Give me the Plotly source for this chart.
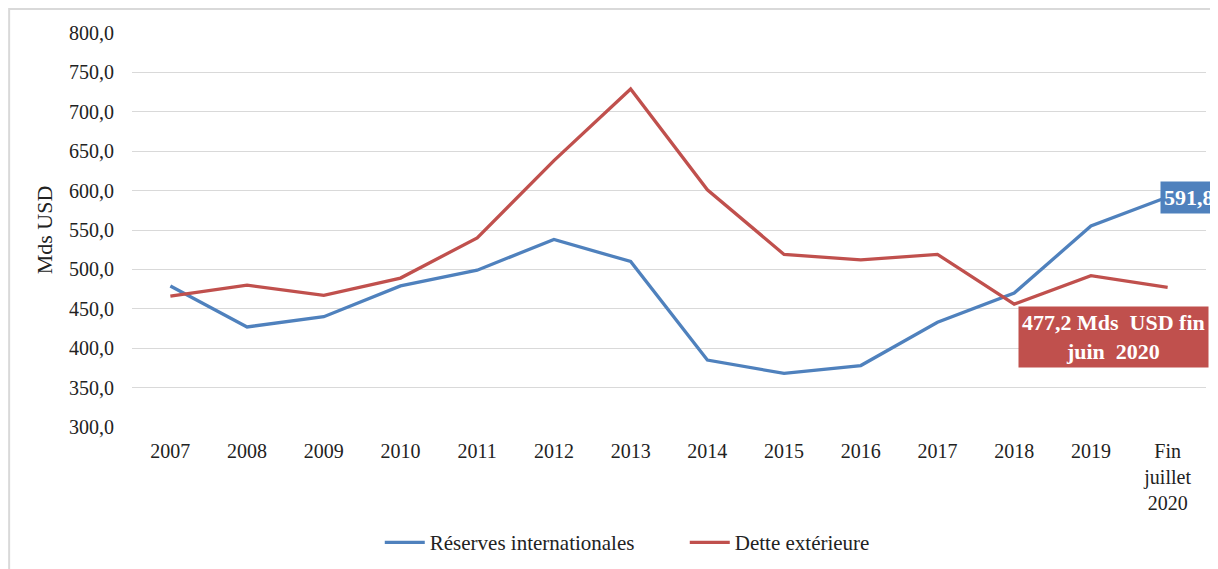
import plotly.graph_objects as go

categories = ["2007", "2008", "2009", "2010", "2011", "2012", "2013", "2014",
              "2015", "2016", "2017", "2018", "2019", "Fin<br>juillet<br>2020"]
reserves = [479, 427, 440, 479, 499, 538, 510, 385, 368, 378, 433, 470, 555, 591.8]
dette = [466, 480, 467, 489, 540, 638, 729, 601, 519, 512, 519, 456, 492, 477.2]
y_ticks = [300, 350, 400, 450, 500, 550, 600, 650, 700, 750, 800]
y_labels = [f"{v},0" for v in y_ticks]

BLUE = "#4f81bd"
RED = "#c0504d"
FONT = "Liberation Serif"

fig = go.Figure()
fig.add_trace(go.Scatter(x=categories, y=reserves, mode="lines", name="Réserves internationales",
                         line=dict(color=BLUE, width=3.3)))
fig.add_trace(go.Scatter(x=categories, y=dette, mode="lines", name="Dette extérieure",
                         line=dict(color=RED, width=3.3)))

fig.add_annotation(x=categories[-1], y=reserves[-1], xref="x", yref="y", text="<b>591,8</b>",
                   showarrow=False, xanchor="left", xshift=-8, bgcolor=BLUE,
                   font=dict(family=FONT, size=22, color="white"), borderpad=3)
fig.add_annotation(x=12.3, y=414, xref="x", yref="y", text="<b>477,2 Mds  USD fin<br>juin  2020</b>",
                   showarrow=False, bgcolor=RED, align="center",
                   font=dict(family=FONT, size=22, color="white"), borderpad=3)

fig.add_shape(type="rect", xref="paper", yref="paper", x0=-0.1144, x1=1.2, y0=-0.5, y1=1.061,
              line=dict(color="#d9d9d9", width=2), fillcolor="rgba(0,0,0,0)", layer="below")

fig.update_layout(
    width=1210, height=561,
    margin=dict(l=124, r=12, t=25, b=142, autoexpand=False),
    paper_bgcolor="white", plot_bgcolor="white",
    font=dict(family=FONT, size=20, color="#222"),
    showlegend=True,
    legend=dict(orientation="h", x=0.2307, xanchor="left", y=0.047, yref="container",
                yanchor="middle", entrywidth=250, entrywidthmode="pixels",
                font=dict(family=FONT, size=21, color="#222"), itemwidth=40, tracegroupgap=0),
    xaxis=dict(type="category", range=[-0.5, 13.5], showgrid=False, showline=False,
               ticks="", tickfont=dict(family=FONT, size=20), ticklabelstandoff=10),
    yaxis=dict(range=[300, 800], tickvals=y_ticks, ticktext=y_labels, showgrid=True,
               gridcolor="#d9d9d9", gridwidth=1, zeroline=False, showline=False,
               ticks="", ticklabelstandoff=17, tickfont=dict(family=FONT, size=20),
               title=dict(text="Mds USD", font=dict(family=FONT, size=22), standoff=10)),
)

fig.write_html("out.html")
